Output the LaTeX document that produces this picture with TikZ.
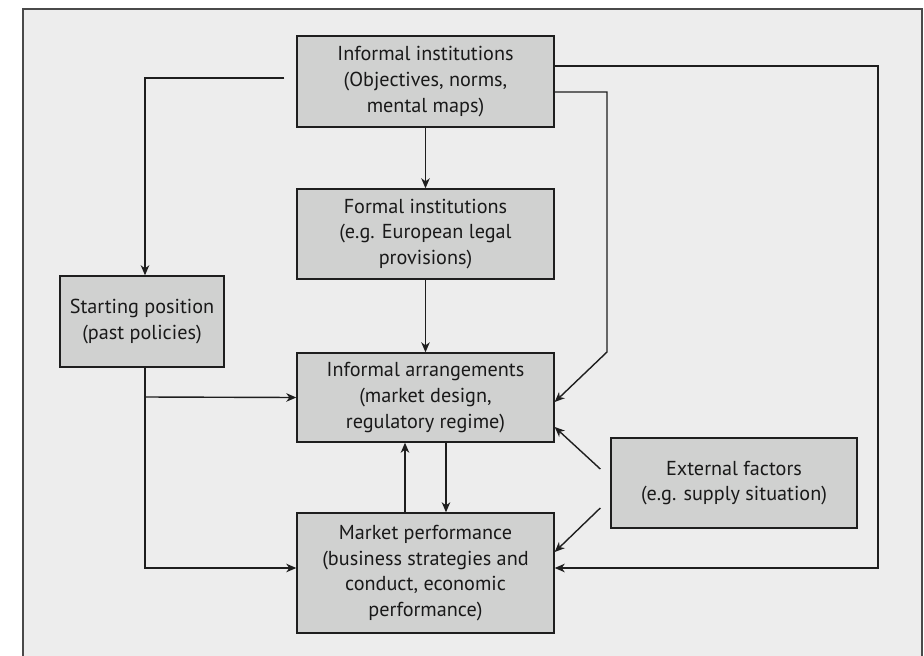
\documentclass[tikz,border=0pt]{standalone}
\usepackage{fontspec}
\setmainfont{PT Sans}
\usetikzlibrary{arrows.meta}
\definecolor{bgc}{HTML}{EDEDED}
\definecolor{boxc}{HTML}{D0D1D0}
\definecolor{linec}{HTML}{1E1E1E}
\definecolor{framec}{HTML}{4A4A4A}
\begin{document}
\begin{tikzpicture}[x=1pt,y=-1pt,
  box/.style={draw=linec, fill=boxc, line width=1.4pt, align=center, inner sep=0pt,
    font=\fontsize{20.2}{25.8}\selectfont, text=black!90},
  conn/.style={draw=linec, line width=1.4pt},
  arr/.style={conn, -{Stealth[length=10pt,width=8.5pt,inset=3pt]}}]
\useasboundingbox (0,0) rectangle (924,656);
\fill[bgc] (23,9) rectangle (922,662);
\draw[framec, line width=1.3pt] (23,662) -- (23,9) -- (922,9) -- (922,662);

\node[box, minimum width=257pt, minimum height=91pt] (ii) at (425.5,81.5)
  {Informal institutions\\(Objectives, norms,\\mental maps)};
\node[box, minimum width=257pt, minimum height=90pt] (fi) at (425.5,234)
  {Formal institutions\\(e.g. European legal\\provisions)};
\node[box, minimum width=164pt, minimum height=91pt] (sp) at (142,321.5)
  {Starting position\\(past policies)};
\node[box, minimum width=257pt, minimum height=89pt] (ia) at (425.5,397.5)
  {Informal arrangements\\(market design,\\regulatory regime)};
\node[box, minimum width=257pt, minimum height=120pt] (mp) at (425.5,573)
  {Market performance\\(business strategies and\\conduct, economic\\performance)};
\node[box, minimum width=246pt, minimum height=90pt] (ef) at (734,483)
  {External factors\\(e.g. supply situation)};

\coordinate (c1) at (878,568);
\coordinate (c2) at (607,352);
\coordinate (c3) at (145,568);
\coordinate (c4) at (145,397);

% informal institutions -> starting position
\draw[arr] ([xshift=-12pt,yshift=3.5pt]ii.west) -| ([xshift=3pt]sp.north);
% informal institutions -> formal institutions
\draw[arr] (ii.south) -- (fi.north);
% formal -> informal arrangements
\draw[arr] (fi.south) -- (ia.north);
% informal institutions -> market performance (outer loop)
\draw[arr] ([yshift=15.5pt]ii.east) -| (c1) -- ([yshift=5pt]mp.east);
% informal institutions -> informal arrangements
\draw[arr] ([yshift=-10.5pt]ii.east) -| (c2) -- ([yshift=-4.5pt]ia.east);
% starting position -> market performance / informal arrangements
\draw[arr] ([xshift=3pt]sp.south) -- (c3) -- ([yshift=5pt]mp.west);
\draw[arr] (c4) -- (ia.west);
% between informal arrangements and market performance
\draw[arr] ([xshift=20.5pt]ia.south) -- ([xshift=20.5pt]mp.north);
\draw[arr] ([xshift=-20.5pt]mp.north) -- ([xshift=-20.5pt]ia.south);
% external factors
\draw[arr] ([xshift=-10pt,yshift=14pt]ef.west) -- ([yshift=-29.5pt]ia.east);
\draw[arr] ([xshift=-10pt,yshift=-25pt]ef.west) -- ([yshift=21pt]mp.east);
\end{tikzpicture}
\end{document}
